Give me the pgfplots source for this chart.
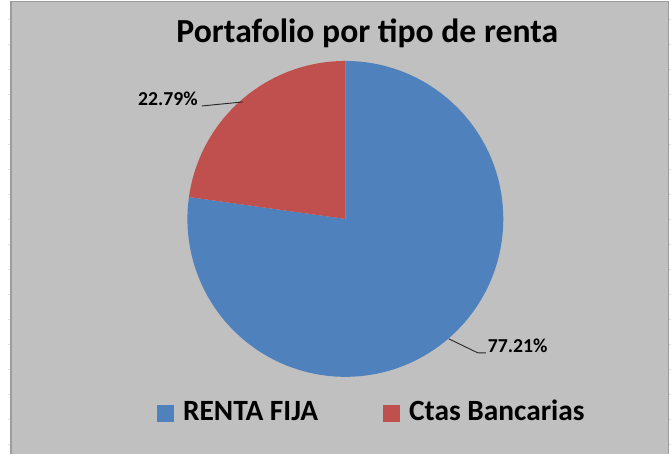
\documentclass[border=0pt]{standalone}
\usepackage{pgfplots}
\pgfplotsset{compat=1.18}
\usepackage{pgfplotstable}
\usepackage{fontspec}
\setmainfont{Carlito}
\definecolor{bg}{HTML}{C0C0C0}
\definecolor{frame}{HTML}{9C9C9C}
\definecolor{fija}{HTML}{4F81BD}
\definecolor{ctas}{HTML}{C0504D}

\pgfplotstableread{
label value
{RENTA FIJA} 77.21
{Ctas Bancarias} 22.79
}\piedata

\begin{document}
\begin{tikzpicture}
\pgfplotstablegetelem{0}{value}\of\piedata \let\va\pgfplotsretval
\pgfplotstablegetelem{1}{value}\of\piedata \let\vb\pgfplotsretval
\pgfmathsetmacro{\ea}{90-3.6*\va}
\begin{axis}[
  width=671bp, height=454bp, scale only axis,
  xmin=0, xmax=671, ymin=0, ymax=454,
  hide axis, clip=false,
  legend columns=2,
  legend image code/.code={\fill[#1] (0bp,-2bp) rectangle (17bp,15bp);},
  legend style={at={(axis cs:371,43)}, anchor=center, draw=none, fill=none,
    font=\bfseries\fontsize{29.5}{31}\selectfont,
    nodes={inner sep=0bp, anchor=base west},
    /tikz/every even column/.append style={column sep=65bp},
    /tikz/every odd column/.append style={column sep=9bp}},
]
% page and frame
\fill[white] (axis cs:0,0) rectangle (axis cs:671,454);
\fill[bg] (axis cs:11,0) rectangle (axis cs:669,452.5);
\draw[frame, line width=1.2bp] (axis cs:11,0) -- (axis cs:11,452.5) -- (axis cs:669,452.5) -- (axis cs:669,0);
\pgfplotsinvokeforeach{0,...,17}{
  \draw[black!12, line width=0.6bp] (axis cs:8.5,{454-19-25*#1}) -- (axis cs:10.4,{454-19-25*#1});
  \draw[black!12, line width=0.6bp] (axis cs:669.6,{454-19-25*#1}) -- (axis cs:671,{454-19-25*#1});
}
% pie
\fill[fija] (axis cs:345.5,235) -- ++(90:158bp) arc[start angle=90, end angle=\ea, radius=158bp] -- cycle;
\fill[ctas] (axis cs:345.5,235) -- ++(90:158bp) arc[start angle=90, end angle={\ea+360}, radius=158bp] -- cycle;
% data labels
\draw[black!85, line width=0.9bp] (axis cs:202,348) -- (axis cs:243,352);
\node[anchor=base east, inner sep=0pt, font=\bfseries\fontsize{19.8}{20}\selectfont] at (axis cs:198,348.5) {\vb\%};
\draw[black!85, line width=0.9bp] (axis cs:449,115) -- (axis cs:478,101) -- (axis cs:486,101);
\node[anchor=base west, inner sep=0pt, font=\bfseries\fontsize{19.8}{20}\selectfont] at (axis cs:488,101.5) {\va\%};
% title
\node[anchor=base, inner sep=0pt, font=\bfseries\fontsize{33.8}{36}\selectfont] at (axis cs:367.5,411) {Portafolio por tipo de renta};
% legend
\addlegendimage{fill=fija, draw=none}
\addlegendentry{RENTA FIJA}
\addlegendimage{fill=ctas, draw=none}
\addlegendentry{Ctas Bancarias}
\end{axis}
\end{tikzpicture}
\end{document}
